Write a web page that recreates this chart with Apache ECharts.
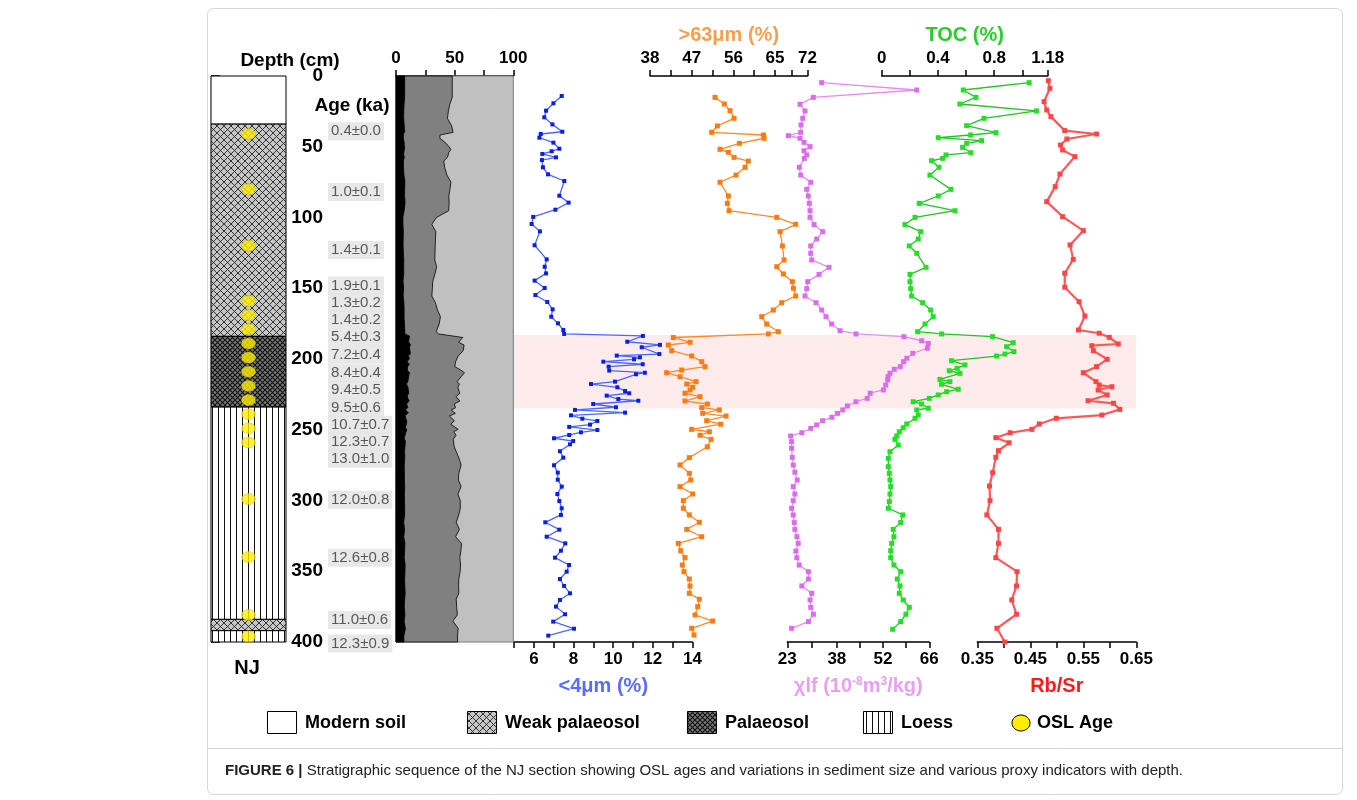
<!DOCTYPE html>
<html><head><meta charset="utf-8">
<script src="https://cdn.jsdelivr.net/npm/echarts@6/dist/echarts.min.js"></script>
<style>html,body{margin:0;padding:0;background:#fff}#c{width:1357px;height:800px}</style>
</head><body><div id="c"></div><script>
// ---------------- DATA ----------------
const depthTickLabels = [0, 50, 100, 150, 200, 250, 300, 350, 400];
const layerTop    = [0, 34, 184, 234, 384, 392];
const layerBottom = [34, 184, 234, 384, 392, 400];
const layerType   = ['modern', 'weak', 'palaeosol', 'loess', 'weak', 'loess'];
const oslDepth = [41, 80, 120, 159, 169, 179, 189, 199, 209, 219, 229, 239, 249, 259, 299, 340, 381, 396];
const ageText = ['0.4±0.0','1.0±0.1','1.4±0.1','1.9±0.1','1.3±0.2','1.4±0.2','5.4±0.3','7.2±0.4','8.4±0.4','9.4±0.5','9.5±0.6','10.7±0.7','12.3±0.7','13.0±1.0','12.0±0.8','12.6±0.8','11.0±0.6','12.3±0.9'];
const ageLabelDepth = [39, 82, 123, 148, 160, 172, 184.5, 197, 210, 222, 234.5, 246.5, 258.5, 270.5, 299.5, 340.5, 384.5, 401];
const bandTop = 183, bandBottom = 235;

// <4 μm (%)
const fineDepth = [14.1,19.3,24.5,29.2,34.2,39.4,41,43.6,47.1,51.4,53.2,55.1,57.5,59.4,64.5,69.5,74.2,84.6,89.5,94.5,99.6,104.6,109.8,119.6,129.6,134.8,139.5,144.6,149.8,154.8,159.7,164.9,170.1,174.8,179.5,182.3,183.7,187.8,190,191.7,196.5,197.6,198.8,200.2,201.9,203.7,205.4,208.2,209.7,210.8,216,217.7,220,222.6,224.2,225.9,228.3,229.5,231.8,234.1,236,237.9,239.8,242.2,243.8,246.4,248,250.2,251.8,253.7,256,258,260.3,265.2,269.7,275.1,280.3,285.3,290.2,295.4,300.4,305.5,310.2,315.4,320.6,325.6,330.3,335.5,340.4,345.6,350.3,355.5,360.4,365.6,370.3,375,380.4,385.6,390.6,395.5];
const fineVal = [7.40,6.98,6.61,6.52,6.93,7.43,6.34,6.27,6.98,7.28,6.89,6.42,7.11,6.40,6.45,6.71,7.53,7.28,7.75,7.08,5.96,5.88,6.30,6.03,6.64,6.54,6.61,6.03,6.54,6.07,6.67,6.94,6.87,7.21,7.48,7.52,11.5,10.71,12.36,11.44,12.33,10.18,11.35,11.05,9.50,11.49,9.77,9.80,11.6,11.15,10.09,8.88,10.21,10.60,10.81,9.67,10.26,11.27,8.99,10.14,8.07,10.60,7.87,8.44,9.20,8.83,7.78,9.20,8.37,7.78,7.01,7.98,7.82,7.31,7.48,7.01,7.20,7.20,7.40,7.18,7.28,7.40,7.36,6.57,7.28,6.64,7.58,7.36,7.06,7.77,7.65,7.31,7.52,7.82,7.31,7.11,7.57,6.97,8.02,6.72];

// >63 μm (%)
const sandDepth = [15.1,19.8,24.5,29.9,35.3,39.8,41.7,44,47.6,51.8,53.9,57.5,60.1,64.5,70,75.1,84.8,90,95.2,99.9,104.8,110,120.1,130,134.8,139.9,145.4,150,155.5,160.2,165.4,170.1,175.3,180.7,182.3,184.8,188.2,190.1,194.1,197.9,201.9,205.4,207.8,209.7,212.5,216,217.7,220,221.9,224.2,226.6,229.7,231.8,234.4,236,238.4,240.3,243.6,246.1,249.7,251.4,253.9,256.8,262,269.7,274.9,280.8,285.5,290.2,295.4,300.1,305.5,310.2,315.4,320.4,325.6,330.3,335.5,340.4,345.6,350.3,355.5,360.4,365.6,369.8,375,380.9,385.2,390.3,395];
const sandVal = [52.04,54.05,55.28,56.14,52.54,51.32,62.48,62.62,57.29,53.12,54.92,56.14,59.23,58.52,56.57,53.12,54.92,54.7,55.06,65.36,69.46,66.08,66.58,66.94,65.36,66.79,68.73,68.95,69.46,66.44,64.63,62.12,63.2,65.7,63.55,43.03,46.64,41.95,42.68,47.0,49.17,49.88,44.85,41.6,44.48,47.94,45.93,47.22,46.64,45.56,48.8,45.56,50.38,49.17,52.97,49.38,54.41,50.24,53.27,47.0,50.8,48.8,51.18,50.38,46.49,44.48,46.49,46.79,44.48,47.22,45.2,45.2,46.49,48.65,45.93,49.17,44.12,44.63,45.56,44.98,45.34,46.49,46.64,46.49,48.65,48.3,47.72,51.54,47.0,47.5];

// χlf (10^-8 m3/kg)
const chiDepth = [4.7,9.9,15.1,20,24.7,29.9,34.6,39.8,42.2,44,46.9,49.9,52.8,55.8,58.2,64.5,70,75.1,80.1,84.8,90,95.2,99.9,105,110,115.2,120.1,125.3,130,135.2,140.2,145.4,150.3,155.5,160.2,165.4,170.1,175.3,180,182.3,184.2,187.1,189,192.4,196,199.5,201.9,205.4,207.3,210.1,212.5,214.8,218.4,221.9,224.2,227.8,230.2,233.2,236,238.4,241.2,243.6,246.6,249,252.1,254.4,258.4,263.1,269.5,274.9,280,285.5,290.2,295.4,300.1,305.5,310.2,315.6,320.4,325.6,330.3,335.7,340.4,345.6,350.3,355.5,360.4,365.6,370.3,375.5,380.4,385.6,390.3];
const chiVal = [33.42,62.2,30.88,26.85,28.36,27.66,27.15,27.06,23.3,26.85,28.06,29.88,28.06,28.88,28.15,26.64,27.06,30.09,28.88,29.36,29.67,29.88,29.88,31.09,33.73,31.91,30.09,30.09,30.39,35.64,32.61,29.18,28.88,28.36,31.7,33.42,34.73,36.45,38.97,43.82,58.3,63.7,65.7,65.4,61.0,59.2,58.2,57.2,55.4,54.1,53.5,53.4,52.8,52.1,48.1,47.2,43.8,41.2,39.8,38.2,36.5,33.7,31.9,30.1,27.4,24.0,24.3,24.3,24.5,24.8,25.3,26.0,24.8,25.3,24.8,24.3,24.8,25.1,25.3,25.9,26.3,25.6,25.9,26.6,29.4,29.4,27.4,30.4,29.9,30.1,30.9,29.4,24.3];

// TOC (%)
const tocDepth = [4.7,9.9,15.1,19.8,24.7,29.9,35.1,40,41.7,43.6,45.7,47.6,50.4,54.2,55.8,58.2,59.9,64.5,70,80.1,84.8,90,95.2,99.9,105,110,115.2,120.1,125.3,135.2,140.2,145.4,150.3,155.5,160.2,165.4,170.1,175.3,180.7,182.3,184.2,188.5,191.3,194.8,196.5,197.9,201.2,204.2,206.6,208.3,210.1,214.4,216,217.9,221.4,223.1,225.4,227.8,230.2,231.8,234.8,236,239.6,241.9,245.9,248.6,251.4,254.4,256.8,260.8,265.5,270.2,276.1,280.8,285.5,290.2,295.4,300.8,305.5,310.2,315.6,320.4,325.6,330.3,335.5,340.4,345.6,350.3,355.5,360.4,365.6,370.3,375.5,380.4,385.6,391];
const tocVal = [1.048,0.58,0.67,0.556,1.10,0.727,0.604,0.812,0.632,0.402,0.71,0.604,0.575,0.634,0.457,0.433,0.355,0.407,0.343,0.492,0.402,0.267,0.521,0.237,0.165,0.277,0.26,0.196,0.249,0.315,0.201,0.201,0.206,0.213,0.291,0.348,0.366,0.308,0.256,0.426,0.788,0.935,0.888,0.94,0.876,0.817,0.497,0.592,0.537,0.48,0.556,0.414,0.485,0.426,0.544,0.462,0.402,0.338,0.224,0.284,0.331,0.249,0.26,0.237,0.178,0.153,0.125,0.107,0.094,0.118,0.059,0.047,0.047,0.054,0.059,0.064,0.059,0.054,0.047,0.149,0.135,0.082,0.087,0.071,0.064,0.064,0.087,0.135,0.111,0.13,0.125,0.153,0.196,0.172,0.135,0.078];

// Rb/Sr
const rbDepth = [3.3,8.7,18.1,24,28.7,38.6,41,44.5,48.8,52.3,57,69.3,78.2,88.8,99.4,109.3,119.4,129.6,139.4,149.3,159.5,169.6,179.5,181.8,184.7,189.4,190.6,194.1,200.2,205.4,209.7,216,218.4,219.6,221.9,225.4,229.5,231.3,235.6,239.6,241.9,245.9,249.7,252.1,255.6,259.2,264.8,269.5,280.3,289.8,300.1,310.2,320.4,330.3,340.4,350.3,360.4,370.3,380.4,390.3,400];
const rbVal = [0.484,0.487,0.476,0.481,0.489,0.515,0.575,0.519,0.507,0.511,0.534,0.506,0.497,0.481,0.511,0.55,0.525,0.531,0.515,0.515,0.542,0.553,0.541,0.58,0.599,0.616,0.566,0.569,0.595,0.575,0.55,0.574,0.58,0.604,0.578,0.595,0.559,0.607,0.619,0.585,0.499,0.467,0.453,0.412,0.385,0.41,0.39,0.385,0.379,0.373,0.374,0.368,0.39,0.39,0.385,0.425,0.424,0.415,0.424,0.387,0.402];

// axis tick values / labels
const grainTicks = [0, 25, 50, 75, 100],      grainLabels = [0, 50, 100];
const fineTicks = [5,6,7,8,9,10,11,12,13,14],  fineLabels = [6, 8, 10, 12, 14];
const sandTicks = [38,42.5,47,51.5,56,60.5,65,68.5,72], sandLabels = [38, 47, 56, 65, 72];
const chiTicks = [23,30.5,38,45,52,59,66],      chiLabels = [23, 38, 52, 66];
const tocTicks = [0,0.2,0.4,0.6,0.8,1.0,1.18],  tocLabels = [0, 0.4, 0.8, 1.18];
const rbTicks = [0.35,0.4,0.45,0.5,0.55,0.6,0.65], rbLabels = [0.35, 0.45, 0.55, 0.65];

// ---------------- PATTERNS ----------------
function pat(type) {
  const c = document.createElement('canvas');
  const g = c.getContext('2d');
  if (type === 'modern') { c.width = c.height = 4; g.fillStyle = '#fff'; g.fillRect(0,0,4,4); }
  else if (type === 'weak' || type === 'palaeosol') {
    const s = type === 'weak' ? 7 : 5;
    c.width = c.height = s;
    g.fillStyle = type === 'weak' ? '#c6c6c6' : '#7a7a7a';
    g.fillRect(0,0,s,s);
    g.strokeStyle = type === 'weak' ? '#222' : '#111';
    g.lineWidth = type === 'weak' ? 0.9 : 1.1;
    g.beginPath(); g.moveTo(0,0); g.lineTo(s,s); g.moveTo(s,0); g.lineTo(0,s); g.stroke();
  } else {
    c.width = 6; c.height = 6; g.fillStyle = '#fff'; g.fillRect(0,0,6,6);
    g.fillStyle = '#111'; g.fillRect(2,0,1,6);
  }
  return { image: c, repeat: 'repeat' };
}
const patterns = { modern: pat('modern'), weak: pat('weak'), palaeosol: pat('palaeosol'), loess: pat('loess') };

// ---------------- LAYOUT ----------------
const FONT = '"Liberation Sans", Arial, Helvetica, sans-serif';
const TOP = 76, H = 566;
function grid(left, width) { return { left: left, top: TOP, width: width, height: H, containLabel: false, outerBoundsMode: 'none' }; }
const grids = [
  grid(211, 75),      // 0 strat column
  grid(396, 117.3),   // 1 grain size
  grid(514.2, 178.2), // 2 <4um
  grid(650, 157.5),   // 3 >63um
  grid(787.3, 142),   // 4 chi
  grid(881.7, 166),   // 5 TOC
  grid(977.3, 159),   // 6 Rb/Sr
  grid(514, 622),     // 7 band
  grid(328, 60)       // 8 age labels
];
function depthAxis(i) { return { type: 'value', gridIndex: i, min: 0, max: 400, inverse: true, show: false }; }
const yAxes = grids.map((g, i) => depthAxis(i));
yAxes[0] = {
  type: 'value', gridIndex: 0, min: 0, max: 400, interval: 50, inverse: true, position: 'right',
  axisLine: { show: true, lineStyle: { color: '#000', width: 1.2 } },
  axisTick: { show: true, length: 9, lineStyle: { color: '#000', width: 1.5 } },
  minorTick: { show: true, splitNumber: 5, length: 5, lineStyle: { color: '#000', width: 1 } },
  axisLabel: { align: 'right', margin: 37, color: '#000', fontWeight: 'bold', fontSize: 19, fontFamily: FONT,
               customValues: depthTickLabels },
  splitLine: { show: false }
};
function valAxis(i, pos, min, max, ticks, labels, name, nameColor, nameGap, rich) {
  return {
    type: 'value', gridIndex: i, position: pos, min: min, max: max,
    axisLine: { show: true, onZero: false, lineStyle: { color: '#000', width: 1.5 } },
    axisTick: { show: true, length: 6, customValues: ticks, lineStyle: { color: '#000', width: 1.5 } },
    axisLabel: { customValues: labels, margin: 9, color: '#000', fontWeight: 'bold', fontSize: 17, fontFamily: FONT },
    splitLine: { show: false },
    name: name, nameLocation: 'middle', nameGap: nameGap,
    nameTextStyle: { color: nameColor, fontWeight: 'bold', fontSize: 20, fontFamily: FONT, rich: rich || {} }
  };
}
const hiddenX = (i) => ({ type: 'value', gridIndex: i, min: 0, max: 1, show: false });
const xAxes = [
  hiddenX(0),
  valAxis(1, 'top', 0, 100, grainTicks, grainLabels, '', '#000', 30),
  valAxis(2, 'bottom', 5, 14, fineTicks, fineLabels, '<4μm (%)', '#5a6cff', 34),
  valAxis(3, 'top', 38, 72, sandTicks, sandLabels, '>63μm (%)', '#f5a04e', 30),
  valAxis(4, 'bottom', 23, 66, chiTicks, chiLabels, 'χlf (10{sup|-8}m{sup|3}/kg)', '#e9a0f4', 34,
          { sup: { fontSize: 12, verticalAlign: 'top', color: '#e9a0f4', fontWeight: 'bold', fontFamily: FONT, padding: [0,0,8,0] } }),
  valAxis(5, 'top', 0, 1.18, tocTicks, tocLabels, 'TOC (%)', '#2ccc2c', 30),
  valAxis(6, 'bottom', 0.35, 0.65, rbTicks, rbLabels, 'Rb/Sr', '#ff1a1a', 34),
  hiddenX(7),
  hiddenX(8)
];

function lineSeries(idx, depth, val, lineColor, dotColor, width, size) {
  return {
    type: 'line', xAxisIndex: idx, yAxisIndex: idx, z: 5,
    data: depth.map((d, i) => [val[i], d]),
    symbol: 'rect', symbolSize: size, showSymbol: true,
    lineStyle: { color: lineColor, width: width },
    itemStyle: { color: dotColor },
    emphasis: { disabled: true }, animation: false, silent: true
  };
}

const series = [
  // palaeosol highlight band
  { type: 'custom', xAxisIndex: 7, yAxisIndex: 7, z: 1, silent: true,
    data: [[0.5, bandTop, bandBottom]],
    renderItem: (params, api) => {
      const a = api.coord([0, api.value(1)]), b = api.coord([1, api.value(2)]);
      return { type: 'rect', shape: { x: a[0], y: a[1], width: b[0] - a[0], height: b[1] - a[1] }, style: { fill: '#fdeceb' } };
    } },
  // stratigraphic column
  { type: 'custom', xAxisIndex: 0, yAxisIndex: 0, z: 2, silent: true,
    data: layerTop.map((t, i) => [0.5, t, layerBottom[i]]),
    renderItem: (params, api) => {
      const i = params.dataIndex;
      const a = api.coord([0, api.value(1)]), b = api.coord([1, api.value(2)]);
      return { type: 'rect', shape: { x: a[0], y: a[1], width: b[0] - a[0], height: b[1] - a[1] },
               style: { fill: patterns[layerType[i]], stroke: '#000', lineWidth: 1 } };
    } },
  // OSL dots
  { type: 'scatter', xAxisIndex: 0, yAxisIndex: 0, z: 4, silent: true,
    data: oslDepth.map(d => [0.5, d]), symbol: 'circle', symbolSize: [14, 11],
    itemStyle: { color: '#ffee00', borderColor: '#c8b400', borderWidth: 0.5 } },
  // age labels
  { type: 'scatter', xAxisIndex: 8, yAxisIndex: 8, z: 4, silent: true, clip: false,
    data: ageLabelDepth.map(d => [0, d]), symbolSize: 0,
    label: { show: true, position: 'right', distance: 0, formatter: p => ageText[p.dataIndex],
             backgroundColor: '#e2e2e2', padding: [2, 3, 1, 3], fontSize: 15, color: '#333', fontFamily: FONT } },
  // grain size stacked areas
  { type: 'custom', xAxisIndex: 1, yAxisIndex: 1, z: 2, silent: true,
    data: [[50, 200]],
    renderItem: (params, api) => {
      const siltPts = [api.coord([0, 0]), api.coord([100 - sandVal[0], 0])];
      sandDepth.forEach((d, i) => siltPts.push(api.coord([100 - sandVal[i], d])));
      siltPts.push(api.coord([100 - sandVal[sandVal.length - 1], 400]), api.coord([0, 400]));
      const clayPts = [api.coord([0, 0]), api.coord([fineVal[0], 0])];
      fineDepth.forEach((d, i) => clayPts.push(api.coord([fineVal[i], d])));
      clayPts.push(api.coord([fineVal[fineVal.length - 1], 400]), api.coord([0, 400]));
      const a = api.coord([0, 0]), b = api.coord([100, 400]);
      return { type: 'group', children: [
        { type: 'rect', shape: { x: a[0], y: a[1], width: b[0] - a[0], height: b[1] - a[1] }, style: { fill: '#c0c0c0', stroke: '#7a7a7a', lineWidth: 1 } },
        { type: 'polygon', shape: { points: siltPts }, style: { fill: '#808080', stroke: '#000', lineWidth: 0.8 } },
        { type: 'polygon', shape: { points: clayPts }, style: { fill: '#000', stroke: '#000', lineWidth: 0.8 } }
      ] };
    } },
  lineSeries(2, fineDepth, fineVal, '#4a66ff', '#0a1ee6', 1.3, 4),
  lineSeries(3, sandDepth, sandVal, '#ff8a2a', '#ff7a10', 1.3, 5),
  lineSeries(4, chiDepth, chiVal, '#e48cf2', '#dc6cee', 1.3, 5),
  lineSeries(5, tocDepth, tocVal, '#22c322', '#22e022', 1.3, 5),
  lineSeries(6, rbDepth, rbVal, '#ff5858', '#ff4646', 2.2, 5)
];

// ---------------- GRAPHIC (titles, legends, caption) ----------------
const boldText = (x, y, text, size, align, color) => ({
  type: 'text', x: x, y: y, silent: true,
  style: { text: text, fontFamily: FONT, fontWeight: 'bold', fontSize: size, fill: color || '#000',
           textAlign: align || 'left', textVerticalAlign: 'middle' }
});
const legendItems = [
  { x: 267, label: 'Modern soil', type: 'modern' },
  { x: 467, label: 'Weak palaeosol', type: 'weak' },
  { x: 687, label: 'Palaeosol', type: 'palaeosol' },
  { x: 863, label: 'Loess', type: 'loess' }
];
const graphic = [
  { type: 'rect', silent: true, shape: { x: 207.5, y: 8.5, width: 1135, height: 786, r: 6 }, style: { fill: 'none', stroke: '#d6d6d6', lineWidth: 1 } },
  { type: 'line', silent: true, shape: { x1: 208, y1: 748.5, x2: 1342, y2: 748.5 }, style: { stroke: '#d6d6d6', lineWidth: 1 } },
  boldText(290, 61, 'Depth (cm)', 19, 'center'),
  boldText(352, 106, 'Age (ka)', 19, 'center'),
  boldText(247, 668, 'NJ', 20, 'center'),
  // grain size inner legend
  { type: 'rect', silent: true, shape: { x: 478.5, y: 550.5, width: 31, height: 86 }, style: { fill: '#fff', stroke: '#555', lineWidth: 1 } },
  { type: 'rect', silent: true, shape: { x: 481, y: 553, width: 24, height: 12 }, style: { fill: '#c8c8c8', stroke: '#444', lineWidth: 0.8 } },
  boldText(481, 573, 'Sand', 10),
  { type: 'rect', silent: true, shape: { x: 481, y: 581, width: 24, height: 12 }, style: { fill: '#808080', stroke: '#444', lineWidth: 0.8 } },
  boldText(481, 601, 'Silt', 10),
  { type: 'rect', silent: true, shape: { x: 481, y: 608, width: 24, height: 12 }, style: { fill: '#000' } },
  boldText(481, 628, 'Clay', 10)
];
legendItems.forEach(it => {
  graphic.push({ type: 'rect', silent: true, shape: { x: it.x + 0.5, y: 711.5, width: 29, height: 22 }, style: { fill: patterns[it.type], stroke: '#000', lineWidth: 1 } });
  graphic.push(boldText(it.x + 38, 723, it.label, 18));
});
graphic.push({ type: 'ellipse', silent: true, shape: { cx: 1021, cy: 723, rx: 9, ry: 8 }, style: { fill: '#ffee00', stroke: '#000', lineWidth: 1 } });
graphic.push(boldText(1037, 723, 'OSL Age', 18));
graphic.push({ type: 'text', x: 225, y: 771, silent: true,
  style: { text: '{b|FIGURE 6 |} Stratigraphic sequence of the NJ section showing OSL ages and variations in sediment size and various proxy indicators with depth.',
           fontFamily: FONT, fontSize: 15, fill: '#222', textVerticalAlign: 'middle',
           rich: { b: { fontWeight: 'bold', fontSize: 15, fontFamily: FONT, fill: '#222' } } } });

const chart = echarts.init(document.getElementById('c'));
chart.setOption({
  animation: false,
  backgroundColor: '#fff',
  textStyle: { fontFamily: FONT },
  grid: grids, xAxis: xAxes, yAxis: yAxes, series: series, graphic: graphic
});
</script></body></html>
